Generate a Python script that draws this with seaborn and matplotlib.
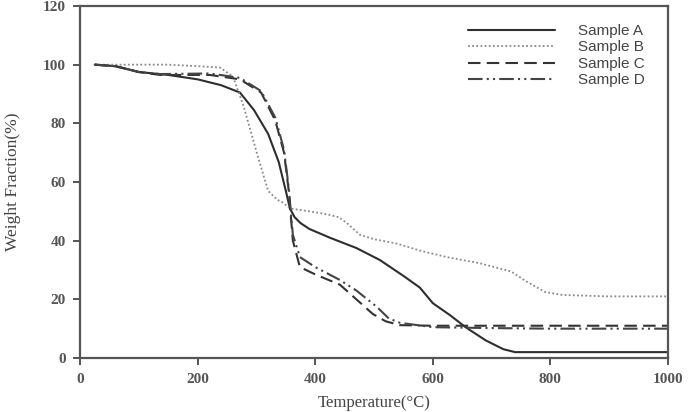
import matplotlib
matplotlib.use("Agg")
import matplotlib.pyplot as plt
import seaborn as sns
import pandas as pd
from matplotlib.lines import Line2D

sns.set_theme(style="white")
plt.rcParams['font.family'] = ['Liberation Serif', 'DejaVu Serif']

# ---- data ----
T_A = [25, 60, 100, 150, 200, 240, 272, 296, 320, 338, 350, 357, 365, 375, 390, 425, 470, 510, 550, 578, 600, 630, 655, 690, 720, 740, 1000]
W_A = [100, 99.5, 97.5, 96.5, 95, 93, 90.5, 84.5, 76.4, 66.8, 57, 51, 48, 46, 44, 41, 37.5, 33.4, 28, 24, 18.7, 14.5, 10.6, 6, 3, 2, 2]

T_B = [25, 100, 150, 200, 238, 260, 278, 302, 320, 335, 345, 357, 390, 420, 440, 454, 476, 500, 539, 580, 624, 680, 733, 760, 791, 820, 900, 1000]
W_B = [100, 100, 100, 99.5, 99, 96, 86, 69, 57, 54, 53, 51, 50, 49, 48, 46, 42, 40.5, 39, 36.5, 34.4, 32.3, 29.5, 26, 22.5, 21.5, 21, 21]

T_C = [25, 60, 100, 136, 221, 272, 308, 332, 347, 355, 362, 374, 400, 442, 470, 498, 520, 544, 600, 700, 800, 1000]
W_C = [100, 99.5, 97.5, 96.5, 96.5, 95, 90.5, 81, 70, 57, 40, 31, 28.5, 25, 20, 15, 12.5, 11.2, 11, 11, 11, 11]

T_D = [25, 60, 100, 136, 221, 272, 308, 332, 347, 355, 362, 374, 400, 442, 470, 505, 525, 544, 600, 700, 800, 1000]
W_D = [100, 99.5, 97.5, 96.8, 97, 95.5, 91, 82, 71, 58, 42, 34.4, 31, 26.6, 23, 17.4, 13.5, 12, 10.5, 10.2, 10, 10]

labels = ["Sample A", "Sample B", "Sample C", "Sample D"]
x_ticks = [0, 200, 400, 600, 800, 1000]
y_ticks = [0, 20, 40, 60, 80, 100, 120]

series = [(T_A, W_A), (T_B, W_B), (T_C, W_C), (T_D, W_D)]
styles = [
    dict(color="#2e2e2e", ls="-", lw=1.5),
    dict(color="#8a8a8a", ls=(0, (1, 1.3)), lw=1.3),
    dict(color="#333333", ls=(0, (6, 3)), lw=1.5),
    dict(color="#444444", ls=(0, (7, 2, 1, 2, 1, 2)), lw=1.5),
]

fig = plt.figure(figsize=(6.89, 4.12), dpi=100)
ax = fig.add_axes([80/689, 1-358/412, (668-80)/689, (358-6)/412])

for (t, w), lab, st in zip(series, labels, styles):
    df = pd.DataFrame({"T": t, "W": w})
    sns.lineplot(data=df, x="T", y="W", ax=ax, color=st["color"], lw=st["lw"],
                 linestyle=st["ls"], sort=False, estimator=None, legend=False)

ax.set_xlim(0, 1000)
ax.set_ylim(0, 120)
ax.set_xticks(x_ticks)
ax.set_yticks(y_ticks)
ax.set_xticklabels([str(v) for v in x_ticks])
ax.set_yticklabels([str(v) for v in y_ticks])

for s in ax.spines.values():
    s.set_color("#555555")
    s.set_linewidth(1.6)
ax.tick_params(axis="both", direction="out", length=5, width=1.4, color="#555555",
               labelsize=11, labelcolor="#555555", pad=5)
ax.tick_params(axis="x", bottom=True, pad=6)
ax.tick_params(axis="y", left=True)
for lbl in ax.get_xticklabels() + ax.get_yticklabels():
    lbl.set_fontweight("bold")

ax.set_xlabel("Temperature(\u00b0C)", fontsize=12, color="#444444", labelpad=6)
ax.set_ylabel("Weight Fraction(%)", fontsize=12.5, color="#444444", labelpad=16)

handles = [Line2D([], [], color=st["color"], lw=st["lw"], linestyle=st["ls"]) for st in styles]
leg = ax.legend(handles, labels, loc="upper left", bbox_to_anchor=(468/689, 1-24/412),
                bbox_transform=fig.transFigure, frameon=False, handlelength=5.7,
                handletextpad=1.5, labelspacing=0.16, borderpad=0, borderaxespad=0,
                prop={"family": "Liberation Sans", "size": 11})
for t in leg.get_texts():
    t.set_color("#444444")

fig.savefig("out.png", dpi=100)
